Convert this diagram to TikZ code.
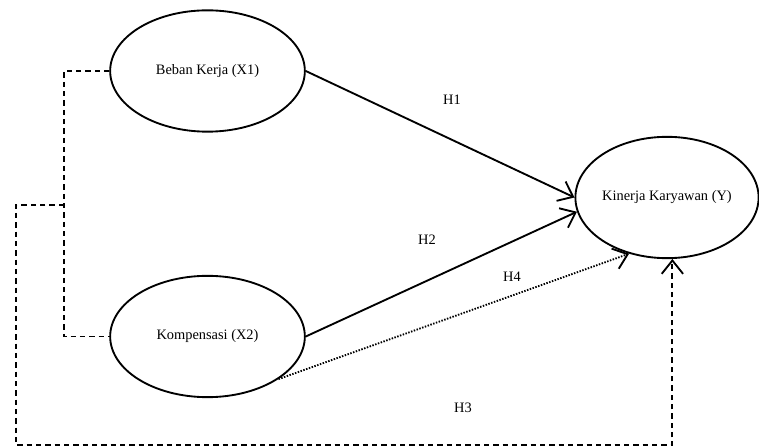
\documentclass[tikz,border=0pt]{standalone}
\usepackage{fontspec}
\setmainfont{Liberation Serif}
\usetikzlibrary{shapes.geometric,arrows.meta,calc}
\begin{document}
\begin{tikzpicture}[x=0.75pt,y=-0.75pt,
  every node/.style={font=\fontsize{10.8}{12}\selectfont},
  latent/.style={draw,ellipse,line width=1.4pt,inner sep=0pt,minimum width=146pt,minimum height=91pt},
  arr/.style={line width=1.4pt,-{Straight Barb[length=10pt,width=16pt,line width=1.4pt]}},
  dashline/.style={line width=1.4pt,dash pattern=on 4pt off 3pt},
  dotline/.style={line width=1.4pt,dash pattern=on 1.1pt off 1.1pt},
  lbl/.style={inner sep=1pt}]
\useasboundingbox (0,0) rectangle (759,448);
\node[latent] (X1) at (207.5,71) {Beban Kerja (X1)};
\node[latent] (X2) at (207.5,336.5) {Kompensasi (X2)};
\node[latent,minimum width=137pt] (Y) at (667,197.5) {Kinerja Karyawan (Y)};
\coordinate (j) at (64,205);
\coordinate (c1) at (64,71);
\coordinate (c2) at (64,336.5);
\coordinate (c3) at (16,205);
\coordinate (c4) at (16,445);
\draw[dashline] (X1.west) -- (c1) -- (c2) -- (X2.west);
\draw[arr] (X1.east) -- (Y.west);
\draw[arr] (X2.east) -- (Y.189.5);
\draw[arr,dotline] (X2.-31) -- (Y.236);
\draw[arr,dashline] (j) -- (c3) -- (c4) -| (Y.275.7);
\node[lbl] (h1) at (452,100) {H1};
\node[lbl] (h2) at (427,240) {H2};
\node[lbl] (h4) at (512,277) {H4};
\node[lbl] (h3) at (463,408) {H3};
\end{tikzpicture}
\end{document}
